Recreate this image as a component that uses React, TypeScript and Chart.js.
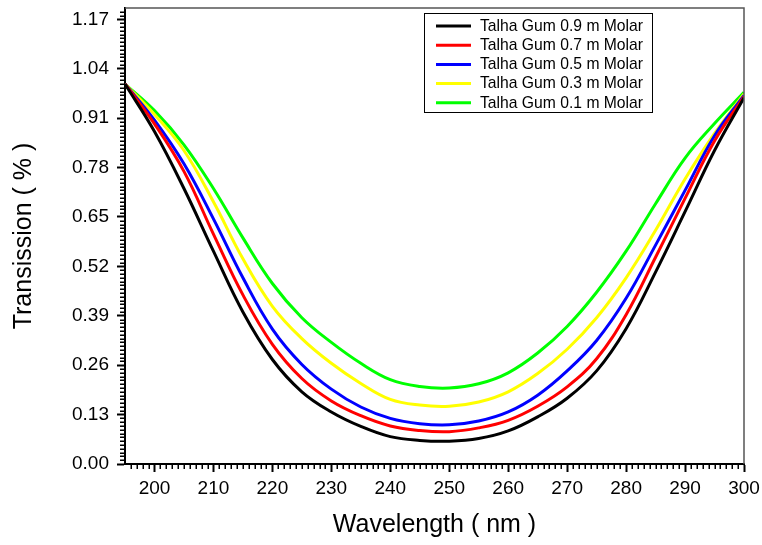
import React, { useEffect, useRef } from "react";
import { Chart, registerables } from "chart.js";

Chart.register(...registerables);

// ---------- data ----------
const wavelengths = [195, 200, 205, 210, 215, 220, 225, 230, 235, 240, 245, 250, 255, 260, 265, 270, 275, 280, 285, 290, 295, 300];

const molar09 = [1.0, 0.875, 0.725, 0.56, 0.4, 0.275, 0.19, 0.137, 0.099, 0.072, 0.062, 0.06, 0.067, 0.087, 0.124, 0.173, 0.245, 0.356, 0.505, 0.664, 0.825, 0.964];
const molar07 = [1.0, 0.895, 0.77, 0.605, 0.445, 0.315, 0.225, 0.166, 0.127, 0.1, 0.088, 0.085, 0.095, 0.115, 0.152, 0.203, 0.277, 0.393, 0.544, 0.699, 0.85, 0.967];
const molar05 = [1.0, 0.905, 0.79, 0.645, 0.49, 0.355, 0.262, 0.197, 0.15, 0.12, 0.106, 0.103, 0.113, 0.137, 0.181, 0.245, 0.325, 0.436, 0.576, 0.72, 0.864, 0.97];
const molar03 = [1.0, 0.92, 0.825, 0.69, 0.54, 0.415, 0.33, 0.265, 0.212, 0.17, 0.155, 0.152, 0.163, 0.19, 0.238, 0.302, 0.385, 0.49, 0.615, 0.75, 0.87, 0.974];
const molar01 = [1.0, 0.93, 0.84, 0.725, 0.595, 0.475, 0.385, 0.32, 0.265, 0.222, 0.204, 0.2, 0.211, 0.24, 0.292, 0.362, 0.452, 0.56, 0.685, 0.805, 0.896, 0.978];

const seriesLabels = [
  "Talha Gum 0.9 m Molar",
  "Talha Gum 0.7 m Molar",
  "Talha Gum 0.5 m Molar",
  "Talha Gum 0.3 m Molar",
  "Talha Gum 0.1 m Molar",
];
const seriesValues = [molar09, molar07, molar05, molar03, molar01];
const seriesColors = ["#000000", "#ff0000", "#0000ff", "#ffff00", "#00ff00"];

const xTickValues = [200, 210, 220, 230, 240, 250, 260, 270, 280, 290, 300];
const yTickValues = [0, 0.13, 0.26, 0.39, 0.52, 0.65, 0.78, 0.91, 1.04, 1.17];

const xTitle = "Wavelength ( nm )";
const yTitle = "Transission ( % )";

const FONT = "'Liberation Sans', Arial, Helvetica, sans-serif";

// ---------- decorations plugin: frame, minor ticks, boxed legend ----------
const decorPlugin = {
  id: "decor",
  afterDraw(chart: any) {
    const { ctx, chartArea: ca, scales } = chart;
    const x = scales.x;
    const y = scales.y;
    ctx.save();

    // top & right frame
    ctx.strokeStyle = "#555555";
    ctx.lineWidth = 1.5;
    ctx.beginPath();
    ctx.moveTo(ca.left, ca.top);
    ctx.lineTo(ca.right, ca.top);
    ctx.lineTo(ca.right, ca.bottom);
    ctx.stroke();

    // minor ticks
    ctx.strokeStyle = "#000000";
    ctx.lineWidth = 1.5;
    ctx.beginPath();
    for (let v = 196; v < 300; v++) {
      if (v % 10 === 0) continue;
      const px = Math.round(x.getPixelForValue(v)) + 0.25;
      ctx.moveTo(px, ca.bottom);
      ctx.lineTo(px, ca.bottom + 5);
    }
    for (let k = 1; k < 120; k++) {
      if (k % 13 === 0) continue;
      const py = Math.round(y.getPixelForValue(k / 100)) + 0.25;
      ctx.moveTo(ca.left - 5, py);
      ctx.lineTo(ca.left, py);
    }
    ctx.stroke();

    // legend box
    const bx = 424.5, by = 13.5, bw = 228, bh = 99;
    ctx.fillStyle = "#ffffff";
    ctx.fillRect(bx, by, bw, bh);
    ctx.strokeStyle = "#000000";
    ctx.lineWidth = 1;
    ctx.strokeRect(bx, by, bw, bh);
    ctx.font = `15.7px ${FONT}`;
    ctx.textBaseline = "middle";
    ctx.textAlign = "left";
    chart.data.datasets.forEach((ds: any, i: number) => {
      const ry = 26 + i * 19.2;
      ctx.strokeStyle = ds.borderColor;
      ctx.lineWidth = 3;
      ctx.beginPath();
      ctx.moveTo(436, ry);
      ctx.lineTo(471, ry);
      ctx.stroke();
      ctx.fillStyle = "#000000";
      ctx.fillText(ds.label, 480, ry + 0.5);
    });

    ctx.restore();
  },
};

export default function App() {
  const canvasRef = useRef<HTMLCanvasElement | null>(null);

  useEffect(() => {
    const canvas = canvasRef.current;
    if (!canvas) return;
    const chart = new Chart(canvas, {
      type: "line",
      data: {
        datasets: seriesLabels.map((label, i) => ({
          label,
          data: wavelengths.map((w, j) => ({ x: w, y: seriesValues[i][j] })),
          borderColor: seriesColors[i],
          backgroundColor: seriesColors[i],
          borderWidth: 3,
          pointRadius: 0,
          fill: false,
          tension: 0.4,
        })),
      },
      options: {
        responsive: false,
        maintainAspectRatio: false,
        animation: false,
        layout: { padding: { left: 0, right: 18, top: 8, bottom: 0 } },
        plugins: {
          legend: { display: false },
          tooltip: { enabled: false },
        },
        scales: {
          x: {
            type: "linear",
            min: 195,
            max: 300,
            afterBuildTicks: (scale: any) => {
              scale.ticks = xTickValues.map((v) => ({ value: v }));
            },
            afterFit: (scale: any) => {
              scale.height = 81;
              scale.paddingLeft = 0;
              scale.paddingRight = 0;
            },
            grid: {
              display: true,
              drawOnChartArea: false,
              drawTicks: true,
              tickLength: 8,
              tickWidth: 2,
              tickColor: "#000000",
            },
            border: { display: true, color: "#000000", width: 2 },
            ticks: {
              color: "#000000",
              font: { family: FONT, size: 19 },
              padding: 5,
              maxRotation: 0,
              autoSkip: false,
              callback: (v: any) => String(v),
            },
            title: {
              display: true,
              text: xTitle,
              color: "#000000",
              font: { family: FONT, size: 25 },
              padding: { top: 0, bottom: 5 },
            },
          },
          y: {
            type: "linear",
            min: 0,
            max: 1.2,
            afterBuildTicks: (scale: any) => {
              scale.ticks = yTickValues.map((v) => ({ value: v }));
            },
            afterFit: (scale: any) => {
              scale.width = 125;
              scale.paddingTop = 0;
              scale.paddingBottom = 0;
            },
            grid: {
              display: true,
              drawOnChartArea: false,
              drawTicks: true,
              tickLength: 8,
              tickWidth: 2,
              tickColor: "#000000",
            },
            border: { display: true, color: "#000000", width: 2 },
            ticks: {
              color: "#000000",
              font: { family: FONT, size: 19 },
              padding: 8,
              autoSkip: false,
              callback: (v: any) => Number(v).toFixed(2),
            },
            title: {
              display: true,
              text: yTitle,
              color: "#000000",
              font: { family: FONT, size: 25 },
              padding: { top: 9, bottom: 0 },
            },
          },
        },
      },
      plugins: [decorPlugin],
    });
    return () => chart.destroy();
  }, []);

  return (
    <div style={{ position: "fixed", left: 0, top: 0, width: 762, height: 545, background: "#ffffff" }}>
      <canvas ref={canvasRef} width={762} height={545} style={{ display: "block", width: 762, height: 545 }} />
    </div>
  );
}
